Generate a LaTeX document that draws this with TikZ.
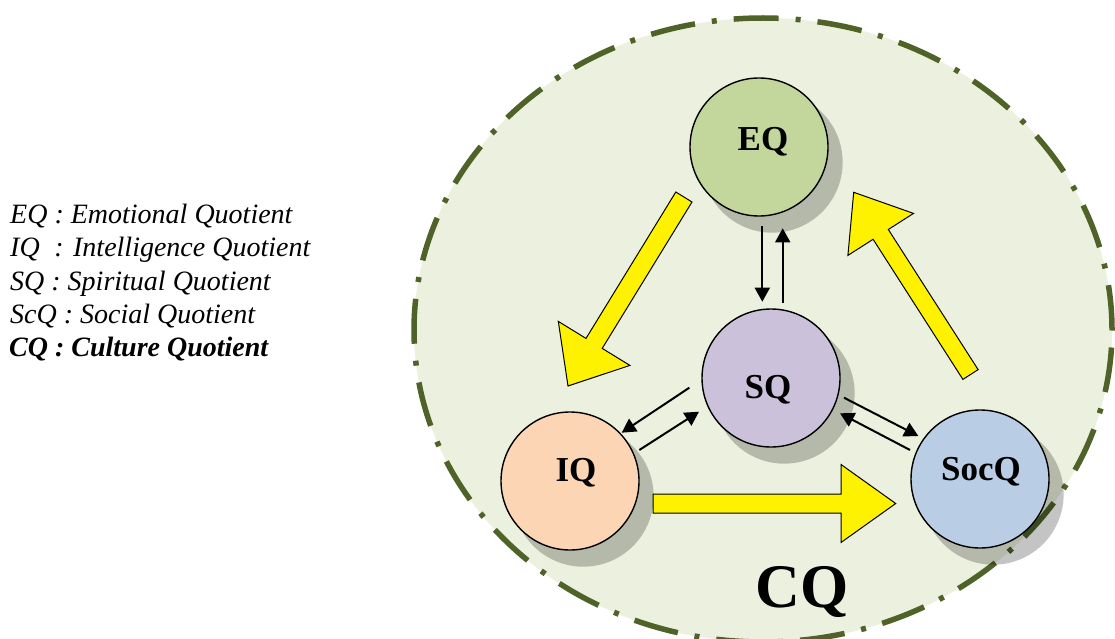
\documentclass[tikz,border=0pt]{standalone}
\usepackage{fontspec}
\setmainfont{Liberation Serif}
\usetikzlibrary{arrows.meta,shadows}
\definecolor{bgfill}{HTML}{EBF1DE}
\definecolor{olivedark}{HTML}{4F6228}
\definecolor{eqc}{HTML}{C3D69B}
\definecolor{sqc}{HTML}{CCC1DA}
\definecolor{iqc}{HTML}{FCD5B5}
\definecolor{socc}{HTML}{B9CDE5}
\begin{document}
\begin{tikzpicture}[x=1pt,y=-1pt,
  quot/.style={circle, draw=black, line width=1.4pt, minimum size=138pt, inner sep=0pt,
    drop shadow={shadow xshift=13pt, shadow yshift=-15pt, shadow scale=1.02, opacity=0.23, fill=black}},
  lab/.style={font=\fontsize{35}{40}\selectfont\bfseries, anchor=base, inner sep=0pt},
  legtext/.style={font=\fontsize{28}{33}\selectfont\itshape, anchor=base west, inner sep=0pt},
  sarrow/.style={line width=2pt, -{Triangle[length=14pt,width=15pt]}},
  yarrow/.style={draw=black, line width=1pt, fill=yellow, line join=miter},
]
\useasboundingbox (0,0) rectangle (1115,639);
\clip (0,0) rectangle (1115,639);
\fill[white] (0,0) rectangle (1115,639);

% legend
\node[legtext] (leg1) at (10,223) {EQ : Emotional Quotient};
\node[legtext] (leg2) at (10,256.5) {\makebox[1.333em][l]{IQ}\ : Intelligence Quotient};
\node[legtext] (leg3) at (10,290) {SQ : Spiritual Quotient};
\node[legtext] (leg4) at (10,323) {ScQ : Social Quotient};
\node[legtext] (leg5) at (9,356.5) {\bfseries CQ : Culture Quotient};

% CQ region
\draw[fill=bgfill, draw=olivedark, line width=5.5pt,
  dash pattern=on 45pt off 17pt on 5pt off 17pt]
  (763,330) ellipse [x radius=349pt, y radius=312pt];

% circles
\node[quot, fill=eqc] (EQ) at (759,147) {};
\node[quot, fill=sqc] (SQ) at (771,378) {};
\node[quot, fill=iqc] (IQ) at (570,481) {};
\node[quot, fill=socc] (SocQ) at (980,479) {};

\node[lab] (EQl) at (763,151) {EQ};
\node[lab] (SQl) at (768,398) {SQ};
\node[lab] (IQl) at (576,481) {IQ};
\node[lab] (SocQl) at (981,480) {SocQ};

\node[font=\fontsize{62}{70}\selectfont\bfseries, anchor=base, inner sep=0pt] (CQ) at (802,607) {CQ};

% yellow block arrows
\draw[yarrow] (675.8,192.0) -- (586.0,338.4) -- (558.3,321.4) -- (568,386)
  -- (629.9,365.4) -- (602.2,348.4) -- (692.0,202.0) -- cycle;
\draw[yarrow] (962.9,379.4) -- (873.1,239.3) -- (847.9,255.4) -- (853.7,192.3)
  -- (913.5,213.4) -- (888.3,229.5) -- (978.1,369.6) -- cycle;
\draw[yarrow] (653,494) -- (841,494) -- (841,464.5) -- (895.7,503.5)
  -- (841,542.5) -- (841,513) -- (653,513) -- cycle;

% small arrows
\draw[sarrow] ([shift={(3.3,79)}]EQ.center) -- ([shift={(-8.7,-76.3)}]SQ.center);
\draw[sarrow] ([shift={(11.7,-75.3)}]SQ.center) -- ([shift={(23.7,81.3)}]EQ.center);
\draw[sarrow] ([shift={(-81.7,9.7)}]SQ.center) -- ([shift={(51.7,-48.3)}]IQ.center);
\draw[sarrow] ([shift={(69.3,-31)}]IQ.center) -- ([shift={(-72,33.7)}]SQ.center);
\draw[sarrow] ([shift={(73,19.7)}]SQ.center) -- ([shift={(-61.7,-43)}]SocQ.center);
\draw[sarrow] ([shift={(-70,-29)}]SocQ.center) -- ([shift={(69,35.3)}]SQ.center);
\end{tikzpicture}
\end{document}
